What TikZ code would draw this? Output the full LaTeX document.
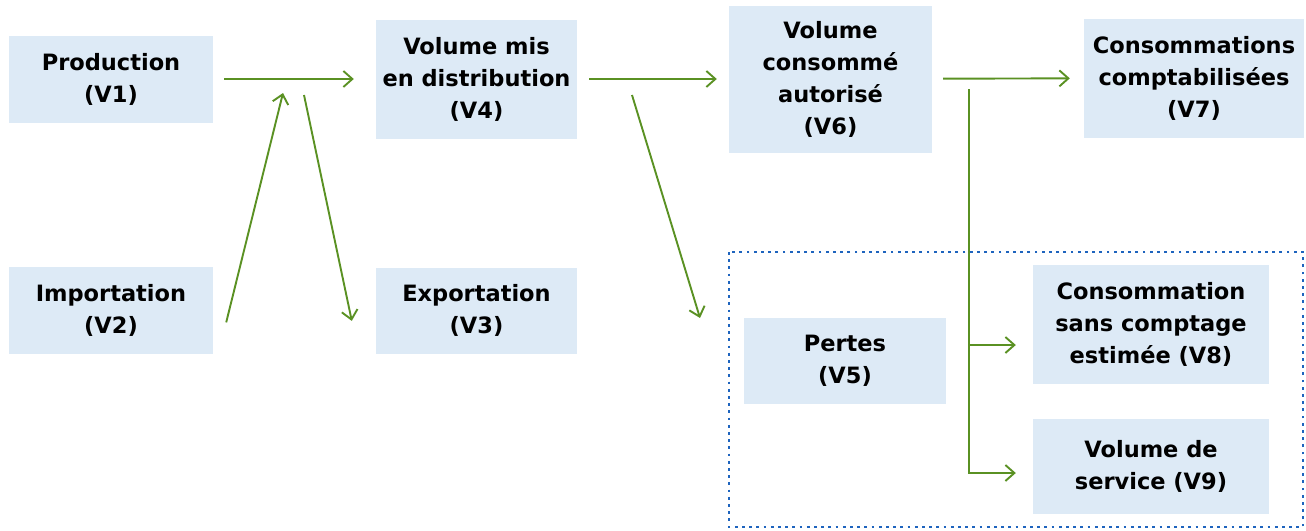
\documentclass[tikz,border=0pt]{standalone}
\usepackage{fontspec}
\setmainfont{DejaVu Sans}
\usetikzlibrary{arrows.meta,positioning}
\definecolor{boxblue}{RGB}{221,234,246}
\definecolor{flowgreen}{RGB}{90,145,35}
\definecolor{dotblue}{RGB}{30,100,190}

\begin{document}
\begin{tikzpicture}[x=1pt,y=-1pt,
    vol/.style={fill=boxblue,inner sep=0pt,align=center,
      font=\bfseries\fontsize{22.5}{32}\selectfont},
    flow/.style={color=flowgreen,line width=1.9pt,
      -{Straight Barb[length=9pt,width=16pt]}},
    lossframe/.style={draw=dotblue,line width=2.8pt,
      dash pattern=on 2.8pt off 4.4pt}]
  \useasboundingbox (0,0) rectangle (1306,530);

  % pertes frame
  \draw[lossframe] (729,252) rectangle (1303,527);

  \node[vol,minimum width=204pt,minimum height=87pt] (v1) at (111,79)  {Production\\(V1)};
  \node[vol,minimum width=204pt,minimum height=87pt] (v2) [below=144pt of v1] {Importation\\(V2)};
  \node[vol,minimum width=201pt,minimum height=119pt] (v4) at (476.5,79) {Volume mis\\en distribution\\(V4)};
  \node[vol,minimum width=201pt,minimum height=86pt] (v3) [below=129pt of v4] {Exportation\\(V3)};
  \node[vol,minimum width=203pt,minimum height=147pt] (v6) at (830.5,79) {Volume\\consommé\\autorisé\\(V6)};
  \node[vol,minimum width=220pt,minimum height=119pt] (v7) at (1194,78) {Consommations\\comptabilisées\\(V7)};
  \node[vol,minimum width=202pt,minimum height=86pt] (v5) at (845,361) {Pertes\\(V5)};
  \node[vol,minimum width=236pt,minimum height=119pt] (v8) at (1151,324.5) {Consommation\\sans comptage\\estimée (V8)};
  \node[vol,minimum width=236pt,minimum height=95pt] (v9) [below=35pt of v8] {Volume de\\service (V9)};

  \coordinate (in2)    at ([shift={(13,12)}]v2.east);
  \coordinate (mixup)  at (283,93);
  \coordinate (mixdn)  at (304,95);
  \coordinate (out3)   at ([shift={(-24,10)}]v3.west);
  \coordinate (lossdn) at (632,95);
  \coordinate (out5)   at (700,318);
  \coordinate (split)  at (969,89);
  \coordinate (b8)     at (969,345);
  \coordinate (b9)     at (969,473);

  \path[flow] (v1)     edge [shorten <=11pt,shorten >=22pt] (v4)
              (in2)    edge                                 (mixup)
              (mixdn)  edge                                 (out3);
  \path[flow] (v4)     edge [shorten <=12pt,shorten >=12pt] (v6)
              (lossdn) edge                                 (out5);
  \path[flow] (v6)     edge [shorten <=11pt,shorten >=14pt] (v7);
  \draw[flow,shorten >=17pt] (split) -- (b9) -- (b9 -| v9.west);
  \draw[flow,shorten >=17pt] (b8) -- (b8 -| v8.west);
\end{tikzpicture}
\end{document}
